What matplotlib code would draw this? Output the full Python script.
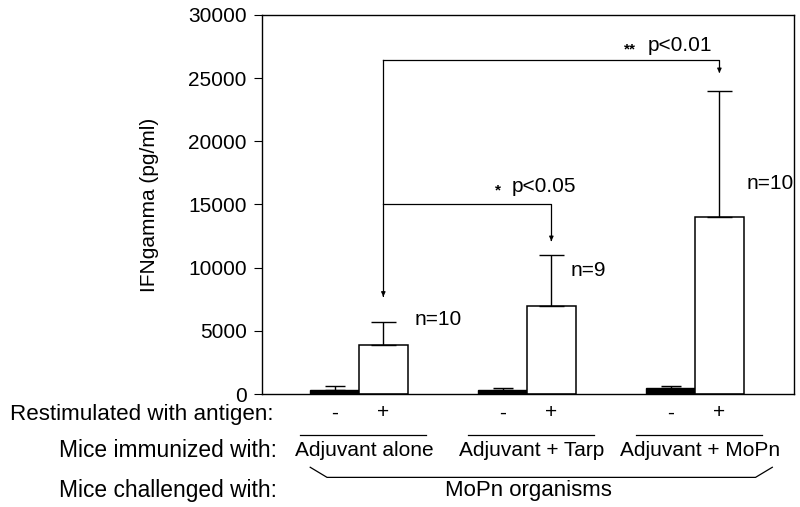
import numpy as np
from matplotlib import pyplot as plt

plt.rcParams['font.family'] = ['Liberation Sans', 'DejaVu Sans']

groups = ['Adjuvant alone', 'Adjuvant + Tarp', 'Adjuvant + MoPn']
unstim_mean = [350, 300, 450]
unstim_err = [250, 150, 150]
stim_mean = [3900, 7000, 14000]
stim_err = [1800, 4000, 10000]
n_labels = ['n=10', 'n=9', 'n=10']
n_label_x = [0.333, 1.262, 2.304]
n_label_y = [5900, 9800, 16700]

x = np.arange(len(groups))
w = 0.29

fig = plt.figure(figsize=(8, 5.07), dpi=100)
ax = fig.add_axes([262 / 800, 1 - 394 / 507, (794 - 262) / 800, (394 - 15) / 507])

ax.bar(x - w / 2, unstim_mean, w, color='black', edgecolor='black', linewidth=1)
ax.bar(x + w / 2, stim_mean, w, color='white', edgecolor='black', linewidth=1.1)
ax.errorbar(x - w / 2, unstim_mean, yerr=[np.zeros(3), unstim_err], fmt='none',
            ecolor='black', elinewidth=1, capsize=7, capthick=1)
ax.errorbar(x + w / 2, stim_mean, yerr=[np.zeros(3), stim_err], fmt='none',
            ecolor='black', elinewidth=1, capsize=9, capthick=1)

for i in range(3):
    ax.text(n_label_x[i], n_label_y[i], n_labels[i], fontsize=15, va='center')

ax.set_xlim(-0.577, 2.589)
ax.set_ylim(0, 30000)
ax.set_yticks(np.arange(0, 30001, 5000))
ax.tick_params(axis='y', labelsize=15, length=6, pad=5, direction='out')
ax.set_xticks([])
for s in ax.spines.values():
    s.set_linewidth(1)
ax.set_ylabel('IFNgamma (pg/ml)', fontsize=15, labelpad=21)

# significance brackets
xl = x[0] + w / 2
top1, top2 = 26400, 15050
ax.plot([xl, xl], [top1, 7900], color='black', lw=0.9)
ax.plot([xl, x[2] + w / 2, x[2] + w / 2], [top1, top1, 25600], color='black', lw=0.9)
ax.plot([xl, x[1] + w / 2, x[1] + w / 2], [top2, top2, 12300], color='black', lw=0.9)
arrow = dict(arrowstyle='-|>', color='black', lw=0.9, mutation_scale=6)
ax.annotate('', xy=(xl, 7500), xytext=(xl, 8000), arrowprops=arrow)
ax.annotate('', xy=(x[2] + w / 2, 25200), xytext=(x[2] + w / 2, 25700), arrowprops=arrow)
ax.annotate('', xy=(x[1] + w / 2, 11900), xytext=(x[1] + w / 2, 12400), arrowprops=arrow)
ax.text(1.72, 27600, 'p<0.01', fontsize=15, ha='left', va='center')
ax.text(1.61, 27300, '**', fontsize=11, ha='center', va='center', fontweight='bold')
ax.text(0.911, 16450, 'p<0.05', fontsize=15, ha='left', va='center')
ax.text(0.827, 16150, '*', fontsize=11, ha='center', va='center', fontweight='bold')

# labels beneath the axis
kw = dict(fontsize=15, clip_on=False, va='center')
ax.text(-0.51, -1600, 'Restimulated with antigen:', fontsize=16.1, clip_on=False,
        va='center', ha='right')
ax.text(-0.49, -4450, 'Mice immunized with:', fontsize=16.4, clip_on=False,
        va='center', ha='right')
ax.text(-0.49, -7650, 'Mice challenged with:', fontsize=16.4, clip_on=False,
        va='center', ha='right')
for i in range(3):
    ax.text(x[i] - w / 2, -1500, '-', ha='center', **kw)
    ax.text(x[i] + w / 2, -1500, '+', ha='center', **kw)
    ax.plot([x[i] - 0.35, x[i] + 0.40], [-3250, -3250], color='black', lw=0.9, clip_on=False)
    ax.text(x[i] + 0.03, -4450, groups[i], ha='center', **kw)
ax.plot([-0.29, -0.19, 2.36, 2.46], [-5800, -6600, -6600, -5800], color='black', lw=0.9,
        clip_on=False)
ax.text(1.01, -7650, 'MoPn organisms', ha='center', fontsize=16, clip_on=False, va='center')

fig.savefig('out.png', dpi=100)
